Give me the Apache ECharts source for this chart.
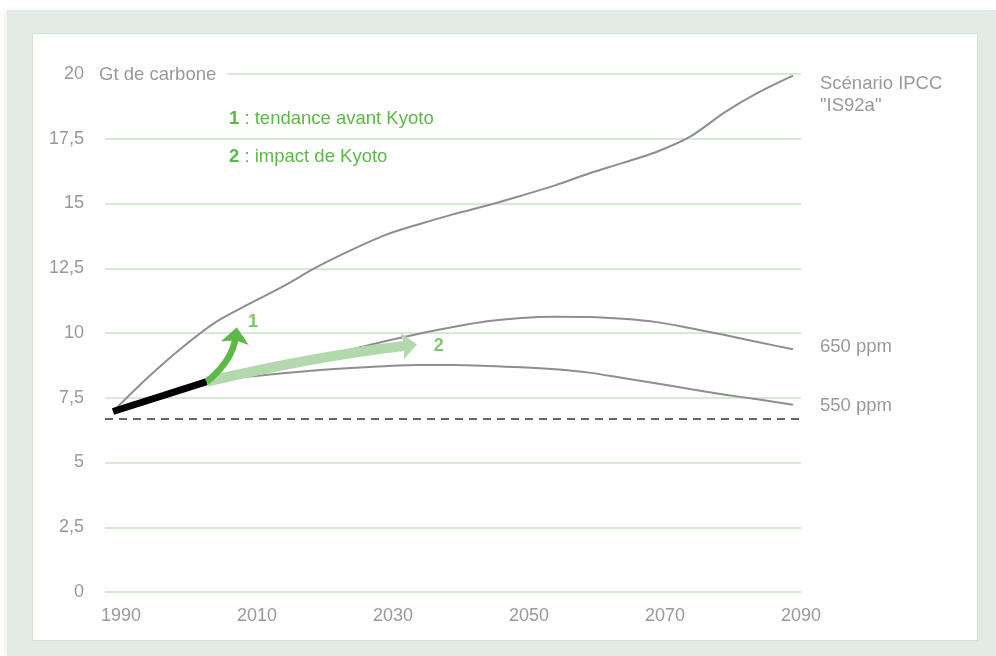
<!DOCTYPE html>
<html>
<head>
<meta charset="utf-8">
<script src="https://cdn.jsdelivr.net/npm/echarts@6/dist/echarts.min.js"></script>
<style>
html,body{margin:0;padding:0;background:#fff;}
#panel{position:absolute;left:7px;top:10px;width:989px;height:646px;background:#e3ebe4;box-shadow:-3px 0 6px rgba(0,0,0,0.06);}
#box{position:absolute;left:32px;top:33px;width:944px;height:606px;background:#fff;border:1.5px solid #cfe3cf;}
#c{position:absolute;left:0;top:0;width:996px;height:656px;}
</style>
</head>
<body>
<div id="panel"></div>
<div id="box"></div>
<div id="c"></div>
<script>
// ---- data ----
const years = [1990,1995,2000,2005,2010,2015,2020,2025,2030,2035,2040,2045,2050,2055,2060,2065,2070,2075,2080,2085,2090];
const is92a = [6.97,8.25,9.4,10.4,11.12,11.8,12.55,13.2,13.78,14.2,14.58,14.92,15.3,15.7,16.16,16.57,17.0,17.6,18.53,19.3,19.94];
const ppm650 = [6.97,7.4,7.82,8.17,8.45,8.75,9.05,9.36,9.68,9.97,10.23,10.45,10.58,10.63,10.62,10.55,10.42,10.18,9.92,9.64,9.37];
const ppm550 = [6.97,7.4,7.82,8.15,8.32,8.45,8.56,8.65,8.72,8.76,8.76,8.73,8.68,8.6,8.47,8.26,8.05,7.83,7.62,7.43,7.23];
const histYears = [1990, 2003.8];
const histValues = [6.97, 8.12];
const baseline = 6.7;
// arrows: [fromYear, fromValue, toYear, toValue]
const arrows = [[2003.8, 8.12, 2034.7, 9.56], [2003.8, 8.12, 2008.2, 10.22]];
const arrowLabels = ['2', '1'];
const arrowLabelPos = [[2037.9, 9.5], [2010.6, 10.42]];
const xTicks = [1990, 2010, 2030, 2050, 2070, 2090];
const yInterval = 2.5;
const seriesNames = ['Scénario IPCC\n"IS92a"', '650 ppm', '550 ppm'];

const zip = (xs, ys) => xs.map((x, i) => [x, ys[i]]);
const GRAY = '#8e8e8e';
const TXT = '#999999';
const GREEN = '#5cb947';
const LIGHT = '#b4d8ae';
const FONT = '"Liberation Sans", Arial, Helvetica, sans-serif';

// arrow styles (by index in arrows)
const arrowStyle = [
  {color: LIGHT, width: 10, curve: 0.03, len: 15, half: 13.5},
  {color: GREEN, width: 6.5, curve: -0.2, len: 16, half: 14}
];

const chart = echarts.init(document.getElementById('c'), null, {renderer: 'canvas'});

function curve(name, vals, offset) {
  return {
    type: 'line', name: name, data: zip(years, vals), smooth: 0.3, symbol: 'none', z: 2,
    lineStyle: {color: GRAY, width: 2}, silent: true, animation: false,
    endLabel: {show: true, formatter: name, color: TXT, fontSize: 18.5, fontFamily: FONT,
      distance: 27, offset: offset, lineHeight: 22, align: 'left'}
  };
}

function renderArrow(params, api) {
  const s = arrowStyle[params.dataIndex];
  const p1 = api.coord([api.value(0), api.value(1)]);
  const p2 = api.coord([api.value(2), api.value(3)]);
  const cp = [(p1[0] + p2[0]) / 2 - (p1[1] - p2[1]) * s.curve,
              (p1[1] + p2[1]) / 2 - (p2[0] - p1[0]) * s.curve];
  let dx = p2[0] - cp[0], dy = p2[1] - cp[1];
  const d = Math.hypot(dx, dy); dx /= d; dy /= d;
  const px = -dy, py = dx;
  const base = [p2[0] - dx * s.len, p2[1] - dy * s.len];
  const notch = [p2[0] - dx * s.len * 0.82, p2[1] - dy * s.len * 0.82];
  const shaftEnd = [p2[0] - dx * s.len * 0.6, p2[1] - dy * s.len * 0.6];
  return {
    type: 'group',
    children: [
      {type: 'bezierCurve',
        shape: {x1: p1[0], y1: p1[1], x2: shaftEnd[0], y2: shaftEnd[1], cpx1: cp[0], cpy1: cp[1]},
        style: {stroke: s.color, lineWidth: s.width, fill: 'none'}},
      {type: 'polygon',
        shape: {points: [p2, [base[0] + px * s.half, base[1] + py * s.half], notch,
                         [base[0] - px * s.half, base[1] - py * s.half]]},
        style: {fill: s.color}}
    ]
  };
}

chart.setOption({
  backgroundColor: 'transparent',
  animation: false,
  textStyle: {fontFamily: FONT},
  grid: {left: 105, right: 195, top: 74, bottom: 64},
  xAxis: {
    type: 'value', min: 1988.82, max: 2091.18,
    axisLine: {show: false}, axisTick: {show: false}, splitLine: {show: false},
    axisLabel: {customValues: xTicks, color: TXT, fontSize: 18, fontFamily: FONT, margin: 15,
      padding: [0, 0, 0, 16], formatter: v => String(v)}
  },
  yAxis: {
    type: 'value', min: 0, max: 20, interval: yInterval,
    axisLine: {show: false}, axisTick: {show: false},
    splitLine: {lineStyle: {color: '#cbe3c9', width: 1.5}},
    axisLabel: {color: TXT, fontSize: 18, fontFamily: FONT, margin: 21,
      formatter: v => String(v).replace('.', ',')}
  },
  graphic: [
    {type: 'text', left: 99, top: 63, z: 100,
      style: {text: 'Gt de carbone', fill: TXT, fontSize: 18.5, fontFamily: FONT,
        backgroundColor: '#fff', padding: [2, 11, 2, 0]}},
    {type: 'text', left: 229, top: 109, z: 100,
      style: {text: '{b|1} : tendance avant Kyoto', fill: GREEN, fontSize: 18.5, fontFamily: FONT,
        rich: {b: {fontWeight: 'bold', fill: GREEN, fontSize: 18.5, fontFamily: FONT}}}},
    {type: 'text', left: 229, top: 147, z: 100,
      style: {text: '{b|2} : impact de Kyoto', fill: GREEN, fontSize: 18.5, fontFamily: FONT,
        rich: {b: {fontWeight: 'bold', fill: GREEN, fontSize: 18.5, fontFamily: FONT}}}}
  ],
  series: [
    curve(seriesNames[0], is92a, [0, 19]),
    curve(seriesNames[1], ppm650, [0, -2]),
    curve(seriesNames[2], ppm550, [0, 1]),
    {
      type: 'line', data: [], z: 1, silent: true,
      markLine: {silent: true, symbol: 'none', animation: false, label: {show: false},
        lineStyle: {type: [8, 6], color: '#333', width: 1.5},
        data: [{yAxis: baseline}]}
    },
    {
      type: 'line', data: zip(histYears, histValues), z: 3, symbol: 'none', silent: true,
      lineStyle: {color: '#000', width: 7}
    },
    {
      type: 'custom', data: arrows, z: 4, silent: true, renderItem: renderArrow,
      encode: {x: [0, 2], y: [1, 3]}
    },
    {
      type: 'scatter', data: arrowLabelPos, symbolSize: 1, z: 6, silent: true,
      itemStyle: {color: 'rgba(0,0,0,0)'},
      label: {show: true, position: 'inside', formatter: p => arrowLabels[p.dataIndex],
        color: GREEN, fontWeight: 'bold', fontSize: 18, fontFamily: FONT}
    }
  ]
});
</script>
</body>
</html>
